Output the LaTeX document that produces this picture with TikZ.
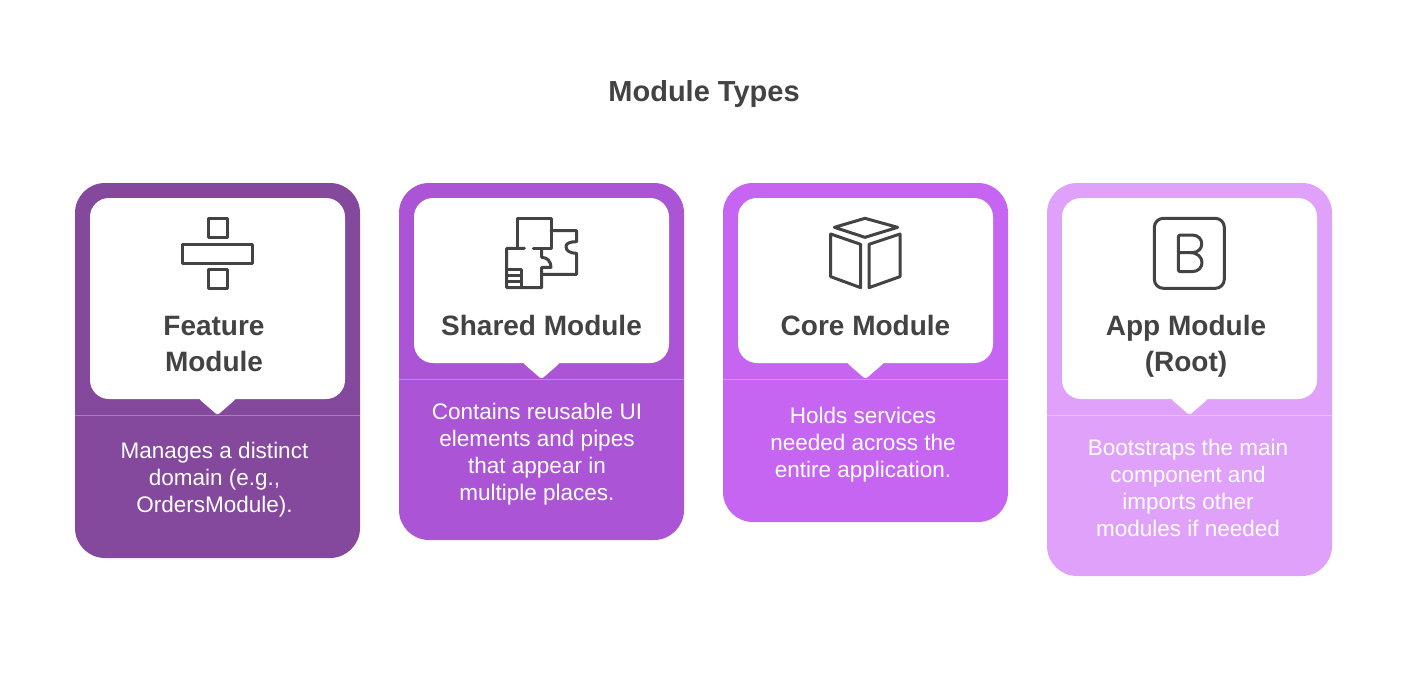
\documentclass[tikz,border=0pt]{standalone}
\usepackage{fontspec}
\setmainfont{Liberation Sans}
\usepackage{tikz}
\usetikzlibrary{calc, positioning}
\definecolor{inkgray}{HTML}{434343}
\definecolor{cardone}{HTML}{84489C}
\definecolor{cardtwo}{HTML}{AB55D6}
\definecolor{cardthree}{HTML}{C765F3}
\definecolor{cardfour}{HTML}{E0A1FB}
\tikzset{
    titletext/.style={text=inkgray, font=\fontsize{29}{34}\selectfont\bfseries, inner sep=0pt},
    headtext/.style={text=inkgray, font=\fontsize{28}{36}\selectfont\bfseries, align=center, inner sep=0pt},
    desctext/.style={text=white, font=\fontsize{22.5}{27}\selectfont, align=center, inner sep=0pt},
    iconline/.style={draw=inkgray, line width=3pt, line join=round, line cap=round},
}
\begin{document}
\begin{tikzpicture}[x=1pt, y=-1pt]
    \useasboundingbox (0,0) rectangle (1407,688);
    \node[titletext] (title) at (704,94.5) {Module Types};

    % card: left edge / bottom / bubble bottom / colour
    \foreach \cx/\cbottom/\bbottom/\ccolor in {75/558/399/cardone, 399/540/363/cardtwo, 723/522/363/cardthree, 1047/576/399/cardfour} {
        \fill[\ccolor, rounded corners=30pt] (\cx,183) rectangle (\cx+285,\cbottom);
        \draw[white!30!\ccolor, line width=1pt] (\cx,\bbottom+16.5) -- (\cx+285,\bbottom+16.5);
        \fill[white, rounded corners=2.5pt] (\cx+124,\bbottom-4) -- (\cx+161,\bbottom-4) -- (\cx+161,\bbottom) -- (\cx+142.5,\bbottom+16) -- (\cx+124,\bbottom) -- cycle;
        \fill[white, rounded corners=19pt] (\cx+15,198) rectangle (\cx+270,\bbottom);
    }

    \node[headtext] (featurehead) at (214,343.5) {Feature\\Module};
    \node[headtext] (sharedhead) at (541.5,325.5) {Shared Module};
    \node[headtext] (corehead) at (865.5,325.5) {Core Module};
    \node[headtext] (apphead) at (1186,346) {App Module\\(Root)};

    \node[desctext] (featuredesc) at (214.5,480) {Manages a distinct\\domain (e.g.,\\OrdersModule).};
    \node[desctext] (shareddesc) at (537,454.5) {Contains reusable UI\\elements and pipes\\that appear in\\multiple places.};
    \node[desctext] (coredesc) at (863,445) {Holds services\\needed across the\\entire application.};
    \node[desctext] (appdesc) at (1188,487.5) {Bootstraps the main\\component and\\imports other\\modules if needed};

    % feature icon
    \draw[iconline] (208,218.5) rectangle (227,237.5);
    \draw[iconline] (182.5,244.5) rectangle (252.5,263);
    \draw[iconline] (208,269.5) rectangle (227,288.5);

    % shared icon
    \begin{scope}[shift={(490,205)}, x=0.3333pt, y=-0.3333pt]
        \draw[iconline] (82,128) -- (82,40) -- (183,40) -- (183,130) -- (130,130);
        \draw[iconline] (103,130) -- (50,130) -- (50,248) -- (155,248) -- (155,187) -- (183,187) .. controls (183,170) and (172,157) .. (155,157) -- (155,130);
        \draw[iconline] (183,77) -- (260,77) -- (260,110) .. controls (240,110) and (228,115) .. (228,125) .. controls (228,137) and (240,145) .. (260,145) -- (260,208) -- (155,208);
        \draw[iconline] (50,195) -- (95,195) -- (95,248);
        \draw[iconline] (50,212) -- (95,212);
        \draw[iconline] (50,230) -- (95,230);
    \end{scope}

    % core icon
    \begin{scope}[shift={(815,205)}, x=0.3333pt, y=-0.3333pt]
        \draw[iconline] (58,67) -- (150,40) -- (248,67) -- (150,97) -- cycle;
        \draw[iconline] (47,87) -- (137,118) -- (137,248) -- (47,215) -- cycle;
        \draw[iconline] (162,118) -- (255,87) -- (255,215) -- (162,248) -- cycle;
    \end{scope}

    % app icon
    \begin{scope}[shift={(1140,205)}, x=0.3333pt, y=-0.3333pt]
        \draw[iconline, rounded corners=9pt] (43,40) rectangle (253,250);
        \draw[iconline, rounded corners=2pt] (115,143) -- (115,90) -- (150,90) .. controls (195,90) and (195,143) .. (150,143) -- (115,143) -- (115,200) -- (150,200) .. controls (197,200) and (197,143) .. (150,143);
    \end{scope}
\end{tikzpicture}
\end{document}
